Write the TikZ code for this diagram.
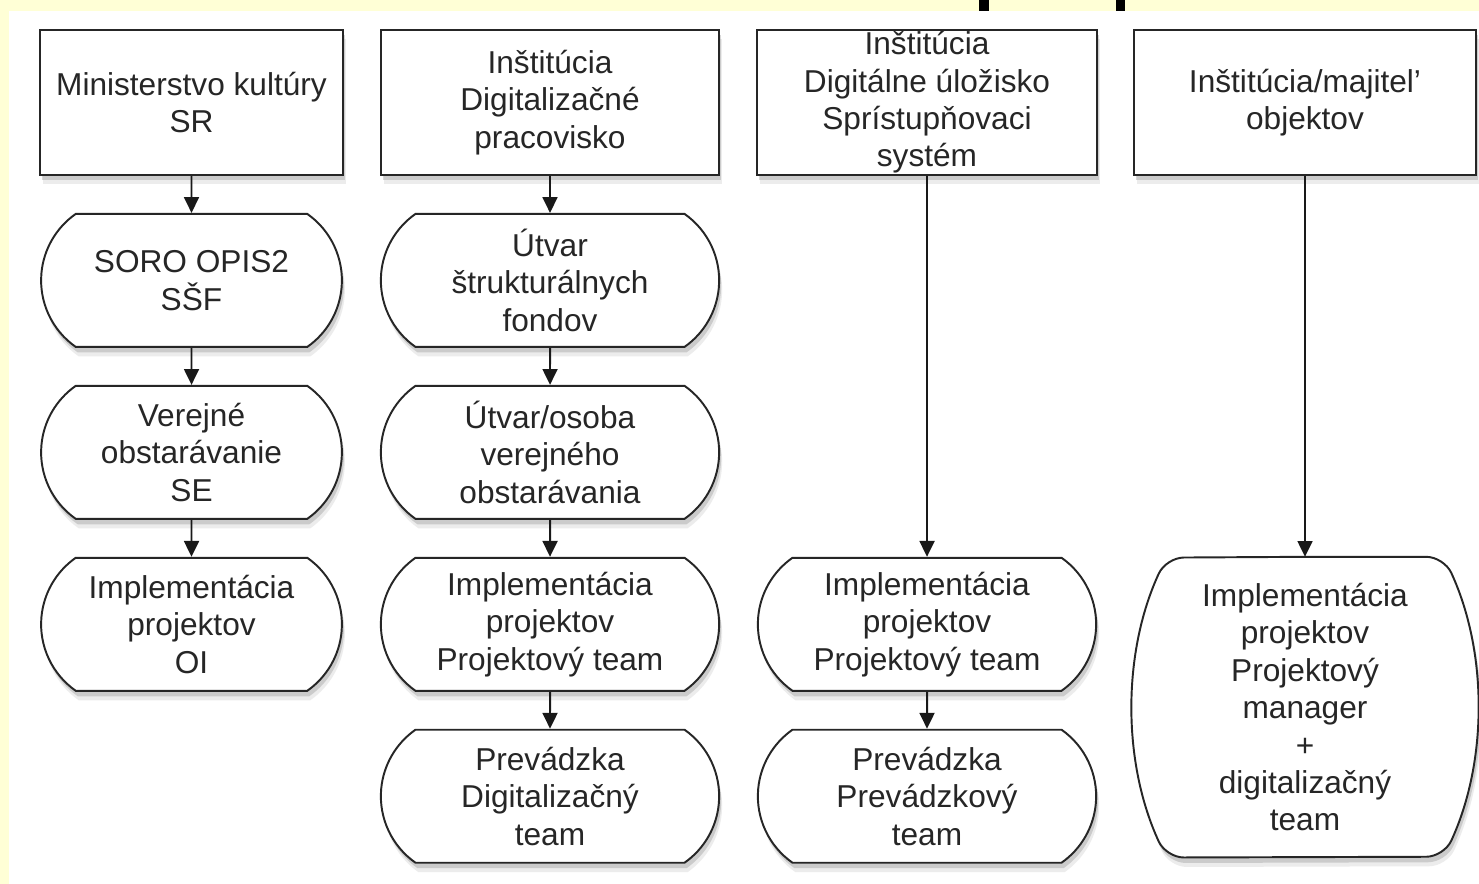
\documentclass[tikz,border=0pt]{standalone}
\usepackage{fontspec}
\setmainfont{Liberation Sans}
\usepackage{tikz}
\usetikzlibrary{shapes, shapes.misc, arrows.meta, positioning, shadows}
\pgfdeclarelayer{pozadie}
\pgfsetlayers{pozadie,main}
\newcommand{\pismo}{\fontsize{18}{21.3}\selectfont}
\definecolor{zlta}{RGB}{255,255,214}
\tikzstyle{tien} = [drop shadow={shadow xshift=0.06cm, shadow yshift=-0.19cm, opacity=0.15}, drop shadow={shadow xshift=0.04cm, shadow yshift=-0.11cm, opacity=0.3}]
\tikzstyle{hlava} = [draw=black!85, fill=white, line width=1.1pt, rectangle, minimum height=2.9cm, align=center, font=\pismo, text=black!85, tien]
\tikzstyle{etapa} = [draw=black!85, fill=white, line width=1.1pt, rounded rectangle, rounded rectangle arc length=110, minimum height=2.66cm, align=center, font=\pismo, text=black!85, tien]
\tikzstyle{sipka} = [-{Triangle[length=9pt, width=8.5pt]}, line width=1.1pt, black!90]

\begin{document}
\begin{tikzpicture}[node distance=0.74cm]
	\useasboundingbox (0,0) rectangle (29.58,17.68);
	\begin{pgfonlayer}{pozadie}
		\fill[white] (0,0) rectangle (29.58,17.68);
		\fill[zlta] (0,17.46) rectangle (29.58,17.68);
		\fill[zlta] (0,0) rectangle (0.18,17.68);
		\fill[black] (19.58,17.46) rectangle (19.78,17.68);
		\fill[black] (22.32,17.46) rectangle (22.50,17.68);
	\end{pgfonlayer}
	% hlavicky stlpcov
	\node [hlava, minimum width=6.06cm] (ministerstvo) at (3.83,15.63) {Ministerstvo kultúry\\SR};
	\node [hlava, minimum width=6.76cm] (pracovisko) at (11.00,15.63) {Inštitúcia\\Digitalizačné\\pracovisko};
	\node [hlava, minimum width=6.80cm, inner ysep=0pt] (ulozisko) at (18.54,15.63) {Inštitúcia\\Digitálne úložisko\\Sprístupňovaci\\systém};
	\node [hlava, minimum width=6.84cm] (majitel) at (26.10,15.63) {Inštitúcia/majitel'\\objektov};
	% prvy stlpec
	\node [etapa, minimum width=6.25cm, below=of ministerstvo] (soro) {SORO OPIS2\\SŠF};
	\node [etapa, minimum width=6.25cm, below=of soro] (obstaravanie) {Verejné\\obstarávanie\\SE};
	\node [etapa, minimum width=6.25cm, below=of obstaravanie] (implOI) {Implementácia\\projektov\\OI};
	% druhy stlpec
	\node [etapa, minimum width=7.0cm, below=of pracovisko] (utvar) {Útvar\\štrukturálnych\\fondov};
	\node [etapa, minimum width=7.0cm, below=of utvar] (osoba) {Útvar/osoba\\verejného\\obstarávania};
	\node [etapa, minimum width=7.0cm, below=of osoba] (implDP) {Implementácia\\projektov\\Projektový team};
	\node [etapa, minimum width=7.0cm, below=of implDP] (prevDP) {Prevádzka\\Digitalizačný\\team};
	% treti stlpec
	\node [etapa, minimum width=7.0cm] (implDU) at (ulozisko |- implDP) {Implementácia\\projektov\\Projektový team};
	\node [etapa, minimum width=7.0cm, below=of implDU] (prevDU) {Prevádzka\\Prevádzkový\\team};
	% stvrty stlpec
	\node [align=center, font=\pismo, text=black!85, minimum width=5.54cm, minimum height=6.0cm, anchor=north] (implMJ) at (majitel |- implDP.north) {Implementácia\\projektov\\Projektový\\manager\\+\\digitalizačný\\team};
	\begin{pgfonlayer}{pozadie}
		\draw [draw=black!85, fill=white, line width=1.1pt, rounded corners=10pt, tien] (implMJ.north) -- (implMJ.north east)
			arc [start angle=24.8, end angle=-24.8, radius=7.15cm] -- (implMJ.south west)
			arc [start angle=204.8, end angle=155.2, radius=7.15cm] -- cycle;
	\end{pgfonlayer}
	% sipky
	\draw [sipka] (ministerstvo) -- (soro);
	\draw [sipka] (soro) -- (obstaravanie);
	\draw [sipka] (obstaravanie) -- (implOI);
	\draw [sipka] (pracovisko) -- (utvar);
	\draw [sipka] (utvar) -- (osoba);
	\draw [sipka] (osoba) -- (implDP);
	\draw [sipka] (implDP) -- (prevDP);
	\draw [sipka] (ulozisko) -- (implDU);
	\draw [sipka] (implDU) -- (prevDU);
	\draw [sipka] (majitel) -- (implMJ);
\end{tikzpicture}
\end{document}
